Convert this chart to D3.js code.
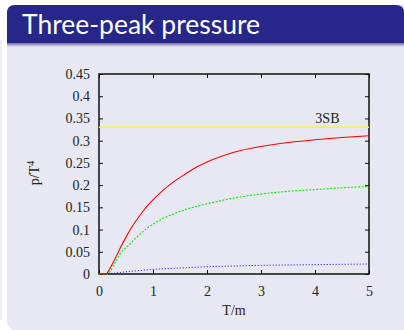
<!DOCTYPE html>
<html lang="en">
<head>
<meta charset="UTF-8">
<script src="https://d3js.org/d3.v7.min.js"></script>
<title>Three-peak pressure</title>
<style>
html, body { margin: 0; padding: 0; background: #ffffff; }
svg { display: block; }
.tick text { font-family: 'Liberation Serif', serif; font-size: 14px; fill: #222; }
</style>
</head>
<body>
<svg id="canvas"></svg>
<script>
// values
let temps  = [0, 0.1, 0.15, 0.2, 0.3, 0.4, 0.5, 0.6, 0.7, 0.8, 0.9, 1.0, 1.2, 1.4, 1.6, 1.8, 2.0, 2.5, 3.0, 3.5, 4.0, 4.5, 5.0]
let redP   = [0, 0, 0.002, 0.012, 0.035, 0.06, 0.083, 0.104, 0.122, 0.139, 0.154, 0.167, 0.19, 0.209, 0.225, 0.24, 0.252, 0.274, 0.287, 0.296, 0.302, 0.307, 0.311]
let greenP = [0, 0, 0, 0.005, 0.026, 0.047, 0.059, 0.071, 0.083, 0.094, 0.104, 0.112, 0.126, 0.136, 0.145, 0.152, 0.158, 0.171, 0.18, 0.186, 0.19, 0.194, 0.197]
let blueP  = [0, 0, 0.0005, 0.001, 0.002, 0.0035, 0.005, 0.0062, 0.0073, 0.0084, 0.0094, 0.0103, 0.0118, 0.0128, 0.014, 0.0153, 0.0163, 0.018, 0.0195, 0.0203, 0.021, 0.0218, 0.0225]
let sbLimit = 0.33
let xTicks = [0, 1, 2, 3, 4, 5]
let yTicks = [0, 0.05, 0.1, 0.15, 0.2, 0.25, 0.3, 0.35, 0.4, 0.45]

let width = 404
let height = 330
let plotL = 99, plotR = 369, plotT = 74, plotB = 274

let svg = d3.select('#canvas').attr('width', width).attr('height', height)

// slide frame
svg.append('rect').attr('x', 7).attr('y', 5).attr('width', 410).attr('height', 325)
    .attr('rx', 8).attr('fill', '#e8e8f2')
svg.append('rect').attr('x', 395).attr('y', 40).attr('width', 9).attr('height', 290)
    .attr('fill', '#e8e8f2')
svg.append('line').attr('x1', 1).attr('x2', 1).attr('y1', 40).attr('y2', 320)
    .attr('stroke', '#dddde6').attr('stroke-width', 1)

let grad = svg.append('defs').append('linearGradient').attr('id', 'shade')
    .attr('x1', 0).attr('y1', 0).attr('x2', 0).attr('y2', 1)
grad.append('stop').attr('offset', '0%').attr('stop-color', '#7070b0')
grad.append('stop').attr('offset', '100%').attr('stop-color', '#e8e8f2')

svg.append('path')
    .attr('d', 'M7,43 L7,13 Q7,5 15,5 L396,5 Q404,5 404,13 L404,43 Z')
    .attr('fill', '#27278a')
svg.append('rect').attr('x', 7).attr('y', 43).attr('width', 397).attr('height', 4)
    .attr('fill', 'url(#shade)')

svg.append('text')
    .attr('x', 22).attr('y', 34)
    .attr('fill', '#ffffff')
    .attr('font-family', 'Lato, sans-serif')
    .attr('font-size', 27)
    .attr('textLength', 238)
    .attr('lengthAdjust', 'spacingAndGlyphs')
    .text('Three-peak pressure')

// scales
let xScale = d3.scaleLinear().domain([0, 5]).range([plotL, plotR])
let yScale = d3.scaleLinear().domain([0, 0.45]).range([plotB, plotT])

let tickIn = (g) => {
    g.select('.domain').remove()
    g.selectAll('.tick line').attr('stroke', '#111')
}

svg.append('g').attr('transform', 'translate(0,' + plotB + ')')
    .call(d3.axisBottom(xScale).tickValues(xTicks).tickFormat(d3.format('d')).tickSizeInner(-4).tickPadding(12))
    .call(tickIn)
svg.append('g').attr('transform', 'translate(0,' + plotT + ')')
    .call(d3.axisTop(xScale).tickValues(xTicks).tickFormat('').tickSizeInner(-4))
    .call(tickIn)
svg.append('g').attr('transform', 'translate(' + plotL + ',0)')
    .call(d3.axisLeft(yScale).tickValues(yTicks).tickFormat(d3.format('')).tickSizeInner(-4).tickPadding(9))
    .call(tickIn)
svg.append('g').attr('transform', 'translate(' + plotR + ',0)')
    .call(d3.axisRight(yScale).tickValues(yTicks).tickFormat('').tickSizeInner(-4))
    .call(tickIn)

// border
svg.append('rect')
    .attr('x', plotL).attr('y', plotT)
    .attr('width', plotR - plotL).attr('height', plotB - plotT)
    .attr('fill', 'none').attr('stroke', '#111').attr('stroke-width', 1.5)

// curves
let line = (vals) => d3.line()
    .x((d, i) => xScale(temps[i]))
    .y((d) => yScale(d))
    .curve(d3.curveMonotoneX)(vals)

svg.append('line')
    .attr('x1', xScale(0)).attr('x2', xScale(5))
    .attr('y1', yScale(sbLimit)).attr('y2', yScale(sbLimit))
    .attr('stroke', '#ffff00').attr('stroke-width', 1.5)

svg.append('path').attr('d', line(blueP)).attr('fill', 'none')
    .attr('stroke', '#0000ff').attr('stroke-width', 1).attr('stroke-dasharray', '1,2')
svg.append('path').attr('d', line(greenP)).attr('fill', 'none')
    .attr('stroke', '#00ee00').attr('stroke-width', 1.1).attr('stroke-dasharray', '2,1.5')
svg.append('path').attr('d', line(redP)).attr('fill', 'none')
    .attr('stroke', '#ff0000').attr('stroke-width', 1.1)

svg.append('text')
    .attr('x', xScale(4.23)).attr('y', yScale(0.34))
    .attr('text-anchor', 'middle')
    .attr('font-family', 'Liberation Serif, serif').attr('font-size', 14).attr('fill', '#222')
    .text('3SB')

// axis titles
svg.append('text')
    .attr('x', (plotL + plotR) / 2).attr('y', 315)
    .attr('text-anchor', 'middle')
    .attr('font-family', 'Liberation Serif, serif').attr('font-size', 14).attr('fill', '#222')
    .text('T/m')

let yl = svg.append('text')
    .attr('transform', 'translate(39,173) rotate(-90)')
    .attr('text-anchor', 'middle')
    .attr('font-family', 'Liberation Serif, serif').attr('font-size', 14).attr('fill', '#222')
yl.append('tspan').text('p/T')
yl.append('tspan').attr('dy', -5).attr('font-size', 10).text('4')
</script>
</body>
</html>
